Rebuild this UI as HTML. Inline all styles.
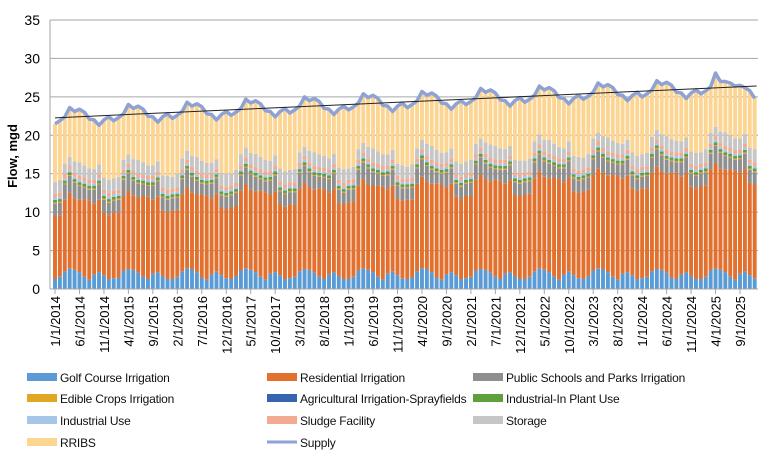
<!DOCTYPE html>
<html><head><meta charset="utf-8"><style>
body{margin:0;background:#fff;font-family:"Liberation Sans",sans-serif}
svg{display:block}
</style></head><body>
<svg id="chart" width="765" height="455" xmlns="http://www.w3.org/2000/svg"></svg>
<script>
const startYear = 2014;
const golf = [
1.3,1.6,2.3,2.7,2.5,2.2,1.6,1.2,1.9,2.2,1.8,1.3,
1.4,1.5,2.4,2.6,2.5,2.1,1.6,1.3,2.0,2.2,1.7,1.3,
1.3,1.6,2.3,2.7,2.6,2.2,1.5,1.2,1.9,2.3,1.8,1.4,
1.3,1.7,2.4,2.7,2.5,2.2,1.6,1.2,2.0,2.2,1.8,1.3,
1.4,1.6,2.3,2.6,2.5,2.1,1.6,1.3,1.9,2.2,1.7,1.3,
1.3,1.6,2.4,2.7,2.5,2.2,1.6,1.2,2.0,2.3,1.8,1.4,
1.3,1.5,2.3,2.7,2.6,2.2,1.5,1.2,1.9,2.2,1.8,1.3,
1.4,1.6,2.4,2.6,2.5,2.1,1.6,1.3,2.0,2.2,1.7,1.3,
1.3,1.6,2.3,2.7,2.5,2.2,1.6,1.2,1.9,2.3,1.8,1.4,
1.3,1.7,2.4,2.7,2.6,2.2,1.6,1.2,2.0,2.2,1.8,1.3,
1.4,1.6,2.3,2.6,2.5,2.1,1.5,1.3,1.9,2.2,1.7,1.3,
1.3,1.6,2.4,2.7,2.5,2.2,1.6,1.2,2.0,2.3,1.8,1.4];
const residential = [
8.2,8.0,9.3,9.8,9.3,9.4,10.1,10.3,9.2,9.4,8.1,8.3,
8.6,8.4,9.7,10.2,9.7,9.8,10.5,10.7,9.6,9.8,8.5,8.7,
8.9,8.7,10.0,10.5,10.0,10.1,10.8,11.0,9.9,10.1,8.8,9.0,
9.3,9.1,10.4,10.9,10.4,10.5,11.2,11.4,10.3,10.5,9.2,9.4,
9.6,9.4,10.7,11.2,10.7,10.8,11.5,11.7,10.6,10.8,9.5,9.7,
10.0,9.8,11.1,11.6,11.1,11.2,11.9,12.1,11.0,11.2,9.9,10.1,
10.3,10.1,11.4,11.9,11.4,11.5,12.2,12.4,11.3,11.5,10.2,10.4,
10.7,10.5,11.8,12.3,11.8,11.9,12.6,12.8,11.7,11.9,10.6,10.8,
11.0,10.8,12.1,12.6,12.1,12.2,12.9,13.1,12.0,12.2,10.9,11.1,
11.4,11.2,12.5,13.0,12.5,12.6,13.3,13.5,12.4,12.6,11.3,11.5,
11.7,11.5,12.8,13.3,12.8,12.9,13.6,13.8,12.7,12.9,11.6,11.8,
12.1,11.9,13.2,13.7,13.2,13.3,14.0,14.2,13.1,13.3,12.0,12.2];
const publicSchools = [
1.6,1.6,2.0,2.2,2.0,1.8,1.5,1.4,1.8,2.0,1.7,1.6,
1.5,1.7,2.1,2.2,1.9,1.8,1.5,1.4,1.8,2.0,1.7,1.6,
1.6,1.6,2.0,2.3,2.0,1.8,1.4,1.4,1.9,2.0,1.6,1.6,
1.6,1.7,2.0,2.2,2.0,1.9,1.5,1.4,1.8,2.1,1.7,1.6,
1.6,1.6,2.1,2.2,2.0,1.8,1.5,1.5,1.8,2.0,1.7,1.5,
1.6,1.6,2.0,2.2,2.1,1.8,1.5,1.4,1.8,2.0,1.7,1.6,
1.5,1.6,2.0,2.3,2.0,1.8,1.5,1.4,1.9,2.0,1.7,1.6,
1.6,1.7,2.0,2.2,2.0,1.8,1.4,1.4,1.8,2.0,1.6,1.6,
1.6,1.6,2.1,2.2,2.0,1.9,1.5,1.4,1.8,2.1,1.7,1.6,
1.6,1.6,2.0,2.2,2.0,1.8,1.5,1.5,1.8,2.0,1.7,1.5,
1.5,1.6,2.0,2.3,2.1,1.8,1.5,1.4,1.9,2.0,1.7,1.6,
1.6,1.7,2.0,2.2,2.0,1.8,1.5,1.4,1.8,2.0,1.7,1.6];
const edibleCrops = [0.15];
const agricultural = [0.05];
const industrialInPlant = [0.3];
const industrialUse = [0.3];
const sludge = [0.5];
const storage = [
1.5,1.7,1.4,1.2,1.5,1.8,1.6,1.5,1.4,1.3,1.6,1.7,
1.6,1.7,1.3,1.2,1.5,1.8,1.6,1.4,1.4,1.3,1.6,1.8,
1.5,1.8,1.4,1.2,1.4,1.8,1.7,1.5,1.4,1.2,1.6,1.7,
1.5,1.7,1.4,1.3,1.5,1.7,1.6,1.5,1.3,1.3,1.7,1.7,
1.6,1.7,1.4,1.2,1.5,1.8,1.6,1.5,1.4,1.3,1.6,1.8,
1.5,1.6,1.4,1.2,1.5,1.8,1.6,1.5,1.4,1.3,1.6,1.7,
1.5,1.7,1.3,1.2,1.6,1.8,1.6,1.4,1.4,1.3,1.6,1.7,
1.6,1.7,1.4,1.2,1.5,1.7,1.7,1.5,1.4,1.2,1.6,1.7,
1.5,1.7,1.4,1.3,1.5,1.8,1.6,1.5,1.3,1.3,1.6,1.8,
1.5,1.8,1.4,1.2,1.5,1.8,1.6,1.5,1.4,1.3,1.7,1.7,
1.6,1.7,1.4,1.2,1.4,1.8,1.6,1.5,1.4,1.3,1.6,1.7,
1.5,1.7,1.4,1.2,1.5,1.8,1.6,1.5,1.4,1.3,1.6,1.7];
const rribs = [
7.6,7.7,6.1,6.4,6.5,6.9,6.9,6.4,6.4,5.1,7.5,8.2,
7.6,7.7,6.1,6.4,6.5,6.9,6.9,6.4,6.4,5.2,7.5,8.2,
7.6,7.7,6.1,6.4,6.5,6.9,6.9,6.4,6.4,5.1,7.5,8.2,
7.6,7.7,6.1,6.4,6.5,6.9,6.9,6.4,6.4,5.1,7.5,8.2,
7.6,7.7,6.1,6.4,6.5,6.9,6.9,6.4,6.4,5.1,7.5,8.2,
7.6,7.7,6.1,6.4,6.5,6.9,6.9,6.4,6.4,5.2,7.5,8.2,
7.6,7.7,6.1,6.4,6.5,6.9,6.9,6.4,6.4,5.1,7.5,8.2,
7.6,7.7,6.1,6.4,6.5,6.9,6.9,6.4,6.4,5.1,7.5,8.2,
7.6,7.7,6.1,6.4,6.5,6.9,6.9,6.4,6.4,5.1,7.5,8.2,
7.6,7.7,6.1,6.4,6.5,6.9,6.9,6.4,6.4,5.2,7.5,8.2,
7.6,7.7,6.1,6.4,6.5,6.9,6.9,6.4,6.4,5.1,7.5,8.2,
7.6,7.7,6.1,7.0,6.5,6.6,6.8,6.8,7.0,6.1,7.4,6.7];
const supply = [
21.5,21.9,22.4,23.6,23.1,23.4,23.0,22.1,22.0,21.3,22.0,22.4,
21.9,22.3,22.8,24.0,23.5,23.8,23.4,22.5,22.4,21.7,22.4,22.8,
22.2,22.6,23.1,24.3,23.8,24.1,23.7,22.8,22.7,22.0,22.7,23.1,
22.6,23.0,23.5,24.7,24.2,24.5,24.1,23.2,23.1,22.4,23.1,23.5,
22.9,23.3,23.8,25.0,24.5,24.8,24.4,23.5,23.4,22.7,23.4,23.8,
23.3,23.7,24.2,25.4,24.9,25.2,24.8,23.9,23.8,23.1,23.8,24.2,
23.6,24.0,24.5,25.7,25.2,25.5,25.1,24.2,24.1,23.4,24.1,24.5,
24.0,24.4,24.9,26.1,25.6,25.9,25.5,24.6,24.5,23.8,24.5,24.9,
24.3,24.7,25.2,26.4,25.9,26.2,25.8,24.9,24.8,24.1,24.8,25.2,
24.7,25.1,25.6,26.8,26.3,26.6,26.2,25.3,25.2,24.5,25.2,25.6,
25.0,25.4,25.9,27.1,26.6,26.9,26.5,25.6,25.5,24.8,25.5,25.9,
25.4,25.8,26.3,28.1,27.0,27.0,26.8,26.4,26.5,26.2,25.8,24.8];
const yTicks = [0,5,10,15,20,25,30,35];
const seriesNames = ["Golf Course Irrigation","Residential Irrigation","Public Schools and Parks Irrigation","Edible Crops Irrigation","Agricultural Irrigation-Sprayfields","Industrial-In Plant Use","Industrial Use","Sludge Facility","Storage","RRIBS","Supply"];

const NS="http://www.w3.org/2000/svg";
const svg=document.getElementById('chart');
function mk(tag,attrs,parent){const e=document.createElementNS(NS,tag);for(const k in attrs)e.setAttribute(k,attrs[k]);(parent||svg).appendChild(e);return e;}
const n=supply.length;
const x0=55, step=(740-55)/140;
function xc(i){return x0+i*step;}
function y(v){return 289-v*(269/35);}
function val(arr,i){return arr.length===1?arr[0]:arr[i];}

yTicks.forEach(t=>{
  const g=mk('line',{x1:50,x2:758,y1:y(t),y2:y(t),stroke:'#a6a6a6','stroke-width':1});
  
  
  const tx=mk('text',{x:40,y:y(t)+5,'text-anchor':'end','font-size':14,fill:'#000'});
  tx.textContent=t;
  
  
});
mk('line',{x1:50,x2:50,y1:y(35),y2:289,stroke:'#a6a6a6'});
const yt=mk('text',{x:0,y:0,transform:'translate(17,156) rotate(-90)','text-anchor':'middle','font-size':13,'font-weight':'bold'});
yt.textContent='Flow, mgd';



const stackSeries=[
 [golf,'#5b9bd5'],[residential,'#e2702e'],[publicSchools,'#8f8f8f'],[edibleCrops,'#e0a624'],
 [agricultural,'#3665b0'],[industrialInPlant,'#5ea13c'],[industrialUse,'#a5c6e6'],[sludge,'#f2ab90'],
 [storage,'#c6c6c6'],[rribs,'#fdd592']];
const bw=step*0.8;
for(let i=0;i<n;i++){
  let base=0;
  stackSeries.forEach((s,si)=>{
    const v=val(s[0],i);
    const r=mk('rect',{x:xc(i)-bw/2,y:y(base+v),width:bw,height:y(base)-y(base+v),fill:s[1]});
    
    
    base+=v;
  });
}
let d='';
for(let i=0;i<n;i++){d+=(i?'L':'M')+xc(i).toFixed(1)+','+y(supply[i]).toFixed(1);}
const sl=mk('path',{d:d,fill:'none',stroke:'#8ea2d4','stroke-width':3.5,'stroke-linejoin':'round'});


let sx=0,sy=0,sxx=0,sxy=0;
for(let i=0;i<n;i++){sx+=i;sy+=supply[i];sxx+=i*i;sxy+=i*supply[i];}
const b=(n*sxy-sx*sy)/(n*sxx-sx*sx), a=(sy-b*sx)/n;
const tl=mk('line',{x1:xc(0),y1:y(a),x2:xc(n-1)+2,y2:y(a+b*(n-1)),stroke:'#222','stroke-width':1});


mk('line',{x1:50,x2:758,y1:289,y2:289,stroke:'#a6a6a6'});
for(let i=0;i<n;i+=5){
  const yr=startYear+Math.floor(i/12), m=i%12+1;
  mk('line',{x1:xc(i),x2:xc(i),y1:289,y2:294,stroke:'#a6a6a6'});
  const t=mk('text',{x:0,y:0,transform:'translate('+(xc(i)+5).toFixed(1)+',296) rotate(-90)','text-anchor':'end','font-size':13});
  t.textContent=m+'/1/'+yr;
  
  
}
const legColors=['#5b9bd5','#e2702e','#8f8f8f','#e0a624','#3665b0','#5ea13c','#a5c6e6','#f2ab90','#c6c6c6','#fdd592','#8ea2d4'];
const colX=[27,267,473], rowY=[377,398,420,442];
seriesNames.forEach((nm,k)=>{
  const cx=colX[k%3], cy=rowY[Math.floor(k/3)];
  const g=mk('g',{});
  
  
  if(nm==='Supply') mk('line',{x1:cx,x2:cx+30,y1:cy,y2:cy,stroke:legColors[k],'stroke-width':3},g);
  else mk('rect',{x:cx,y:cy-4,width:30,height:8,fill:legColors[k]},g);
  const t=mk('text',{x:cx+33,y:cy+5,'font-size':12,'letter-spacing':-0.2,fill:'#111'},g);
  t.textContent=nm;
});
</script>
</body></html>
